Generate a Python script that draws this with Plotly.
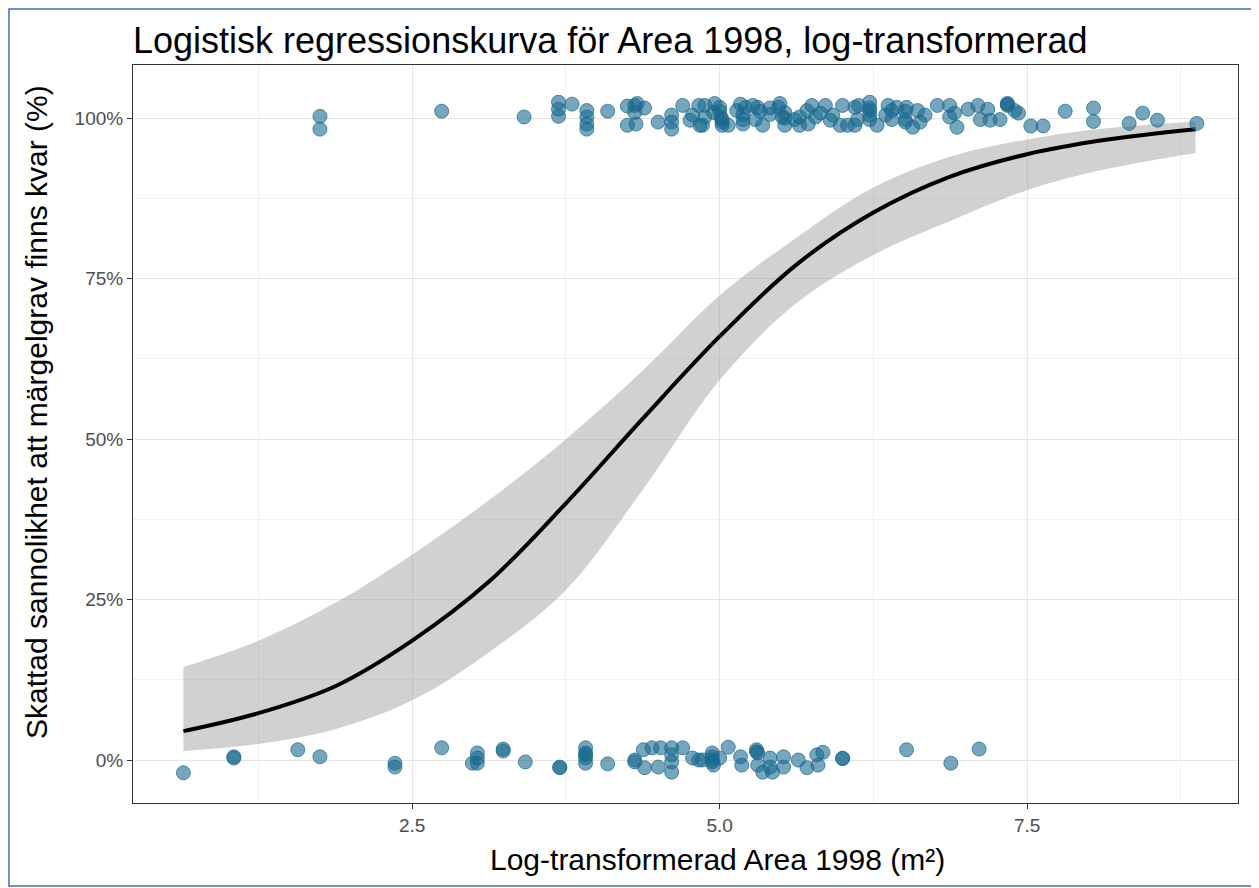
import plotly.graph_objects as go

# fitted curve and confidence band
curve_x = [0.64, 1.25, 1.875, 2.5, 3.125, 3.75, 4.375, 5.0, 5.625, 6.25, 6.875, 7.5, 8.125, 8.87]
curve_p = [0.045, 0.073, 0.115, 0.186, 0.278, 0.400, 0.532, 0.660, 0.772, 0.853, 0.909, 0.944, 0.966, 0.983]
band_hi = [0.145, 0.186, 0.245, 0.320, 0.405, 0.500, 0.607, 0.724, 0.814, 0.892, 0.940, 0.967, 0.984, 0.995]
band_lo = [0.014, 0.025, 0.048, 0.093, 0.168, 0.265, 0.421, 0.592, 0.712, 0.787, 0.840, 0.888, 0.920, 0.946]

# observations, jittered around 1 (finns kvar) and 0 (borta)
kvar_x = [1.75, 1.75, 2.74, 3.41, 3.69, 3.69, 3.69, 3.80, 3.92, 3.92, 3.92, 3.92, 4.09, 4.25, 4.31, 4.31,
          4.25, 4.32, 4.50, 4.61, 4.61, 4.61, 4.70, 4.78, 4.83, 4.84, 4.88, 4.88, 4.86, 4.95, 5.00, 5.02,
          5.02, 5.07, 5.14, 5.17, 5.19, 5.19, 5.27, 5.31, 5.29, 5.35, 5.41, 5.48, 5.51, 5.53, 5.53, 5.61,
          5.65, 5.71, 5.72, 5.78, 5.86, 5.92, 5.98, 6.00, 6.04, 6.10, 6.12, 6.13, 6.10, 6.22, 6.22, 6.22,
          6.28, 6.37, 6.40, 6.40, 6.44, 6.52, 6.51, 6.61, 6.57, 6.63, 6.77, 6.87, 6.87, 6.93, 7.02, 7.10,
          7.12, 7.18, 7.20, 7.28, 7.34, 7.34, 7.40, 7.53, 7.63, 7.81, 8.04, 8.04, 8.33, 8.44, 8.56, 8.88,
          5.00, 5.01, 5.41, 5.65, 6.22, 6.22, 6.51, 6.51, 5.02, 5.19, 5.53, 5.82, 4.39, 5.33, 5.90, 4.76,
          5.49, 5.75, 6.35, 6.91, 6.67, 7.43, 5.21, 4.96, 4.33, 7.34]
kvar_p = [1.003, 0.983, 1.011, 1.002, 1.025, 1.014, 1.003, 1.022, 1.012, 1.002, 0.991, 0.983, 1.011, 1.019, 1.020, 1.009,
          0.989, 0.991, 0.994, 1.005, 0.994, 0.983, 1.020, 1.005, 1.020, 0.989, 1.020, 1.002, 0.989, 1.009, 1.017, 0.998,
          0.989, 0.989, 1.012, 1.022, 1.006, 0.991, 1.020, 1.017, 0.998, 0.989, 1.006, 1.017, 1.002, 0.989, 1.009, 0.998,
          0.989, 1.012, 0.991, 1.002, 1.020, 1.005, 0.989, 1.020, 0.989, 1.017, 0.998, 1.020, 0.989, 1.025, 1.012, 0.998,
          0.989, 1.020, 1.012, 0.998, 1.017, 1.017, 0.998, 1.012, 0.986, 0.994, 1.020, 1.020, 1.002, 0.986, 1.014, 1.020,
          0.998, 1.014, 0.997, 0.998, 1.022, 1.023, 1.012, 0.988, 0.988, 1.011, 1.016, 0.995, 0.992, 1.008, 0.997, 0.992,
          1.011, 1.002, 1.016, 1.002, 1.016, 1.005, 1.011, 0.994, 0.994, 0.998, 1.000, 1.008, 1.016, 1.011, 0.997, 0.997,
          1.023, 1.020, 1.005, 1.008, 1.005, 1.008, 1.017, 1.023, 1.023, 1.020]

borta_x = [0.64, 1.05, 1.05, 1.57, 1.75, 2.36, 2.36, 2.74, 2.99, 3.03, 3.03, 3.03, 3.24, 3.24, 3.42,
           3.70, 3.70, 3.91, 3.91, 3.91, 3.91, 4.09, 4.31, 4.38, 4.39, 4.45, 4.52, 4.50, 4.61, 4.61, 4.61,
           4.70, 4.78, 4.83, 4.86, 4.94, 4.94, 4.95, 5.07, 5.17, 5.18, 5.30, 5.31, 5.35, 5.41, 5.41, 5.43,
           5.52, 5.52, 5.64, 5.71, 5.79, 5.80, 5.84, 6.00, 6.00, 6.52, 6.88, 7.11,
           4.94, 4.61, 3.91, 4.31, 5.00, 5.30, 4.94, 5.31]
borta_p = [-0.020, 0.005, 0.003, 0.016, 0.005, -0.005, -0.011, 0.019, -0.005, 0.011, 0.003, -0.005, 0.017, 0.014, -0.003,
           -0.012, -0.011, 0.019, 0.011, 0.003, -0.005, -0.006, -0.003, 0.016, -0.012, 0.019, 0.019, -0.011, 0.019, -0.003, -0.019,
           0.019, 0.003, 0.000, 0.000, 0.011, 0.000, -0.008, 0.020, 0.005, -0.008, 0.016, -0.008, -0.019, 0.003, -0.011, -0.019,
           0.005, -0.011, 0.000, -0.012, 0.008, -0.008, 0.012, 0.003, 0.002, 0.016, -0.005, 0.017,
           0.005, 0.008, 0.008, 0.000, 0.003, 0.013, -0.003, 0.011]

# page body has an 8px margin, so the figure is 8px smaller than the window
OFF = 8
W, H = 1259 - OFF, 888 - OFF
ML, MR, MT, MB = 125, 21, 57, 85
PW, PH = W - ML - MR, H - MT - MB

FONT = "Liberation Sans, Arial, Helvetica, sans-serif"
POINT = "rgba(26,105,143,0.6)"


# page px -> paper coords
def px_x(p):
    return (p - OFF - ML) / PW


def px_y(p):
    return (OFF + MT + PH - p) / PH


fig = go.Figure()

# ribbon
fig.add_trace(go.Scatter(x=curve_x, y=band_lo, mode="lines", line=dict(width=0, shape="spline"),
                         hoverinfo="skip", showlegend=False))
fig.add_trace(go.Scatter(x=curve_x, y=band_hi, mode="lines", line=dict(width=0, shape="spline"),
                         fill="tonexty", fillcolor="rgba(153,153,153,0.45)", hoverinfo="skip", showlegend=False))

# fitted line
fig.add_trace(go.Scatter(x=curve_x, y=curve_p, mode="lines",
                         line=dict(color="black", width=4, shape="spline"), showlegend=False))

# points
for xs, ys in [(kvar_x, kvar_p), (borta_x, borta_p)]:
    fig.add_trace(go.Scatter(x=xs, y=ys, mode="markers", showlegend=False,
                             marker=dict(size=14, color=POINT,
                                         line=dict(color="rgba(26,105,143,0.7)", width=1))))

axis_common = dict(
    showline=True, mirror=True, linecolor="#333333", linewidth=1,
    ticks="outside", ticklen=5, tickcolor="#333333", tickwidth=1,
    showgrid=True, gridcolor="#e5e5e5", gridwidth=1.3,
    zeroline=False,
    tickfont=dict(family=FONT, size=19, color="#4d4d4d"),
)

fig.update_layout(
    width=W, height=H,
    margin=dict(l=ML, r=MR, t=MT, b=MB),
    paper_bgcolor="white", plot_bgcolor="white",
    font=dict(family=FONT, color="black"),
    title=dict(text="Logistisk regressionskurva för Area 1998, log-transformerad",
               font=dict(family=FONT, size=36, color="black"),
               x=ML / W, xanchor="left", y=1 - (40 - OFF) / H, yanchor="middle"),
    xaxis=dict(axis_common, range=[0.23, 9.215], tickvals=[2.5, 5.0, 7.5],
               ticktext=["2.5", "5.0", "7.5"],
               minor=dict(dtick=1.25, tick0=0, showgrid=True, gridcolor="#f0f0f0", gridwidth=1)),
    yaxis=dict(axis_common, range=[-0.067, 1.083], tickvals=[0, 0.25, 0.5, 0.75, 1.0],
               tickformat=".0%",
               minor=dict(dtick=0.125, tick0=0, showgrid=True, gridcolor="#f0f0f0", gridwidth=1)),
)

# axis titles placed where they sit in the reference
fig.add_annotation(text="Log-transformerad Area 1998 (m²)", xref="paper", yref="paper",
                   x=px_x(717), y=px_y(860), xanchor="center", yanchor="middle", showarrow=False,
                   font=dict(family=FONT, size=30, color="black"))
fig.add_annotation(text="Skattad sannolikhet att märgelgrav finns kvar (%)", xref="paper", yref="paper",
                   x=px_x(37), y=px_y(412), xanchor="center", yanchor="middle", showarrow=False,
                   textangle=-90, font=dict(family=FONT, size=30, color="black"))

# outer frame around the whole image
fig.add_shape(type="rect", xref="paper", yref="paper",
              x0=px_x(OFF + 1), x1=px_x(1255), y0=px_y(886), y1=px_y(OFF + 1),
              line=dict(color="#3f6fb5", width=1.5), layer="below")

fig.write_html("out.html")
